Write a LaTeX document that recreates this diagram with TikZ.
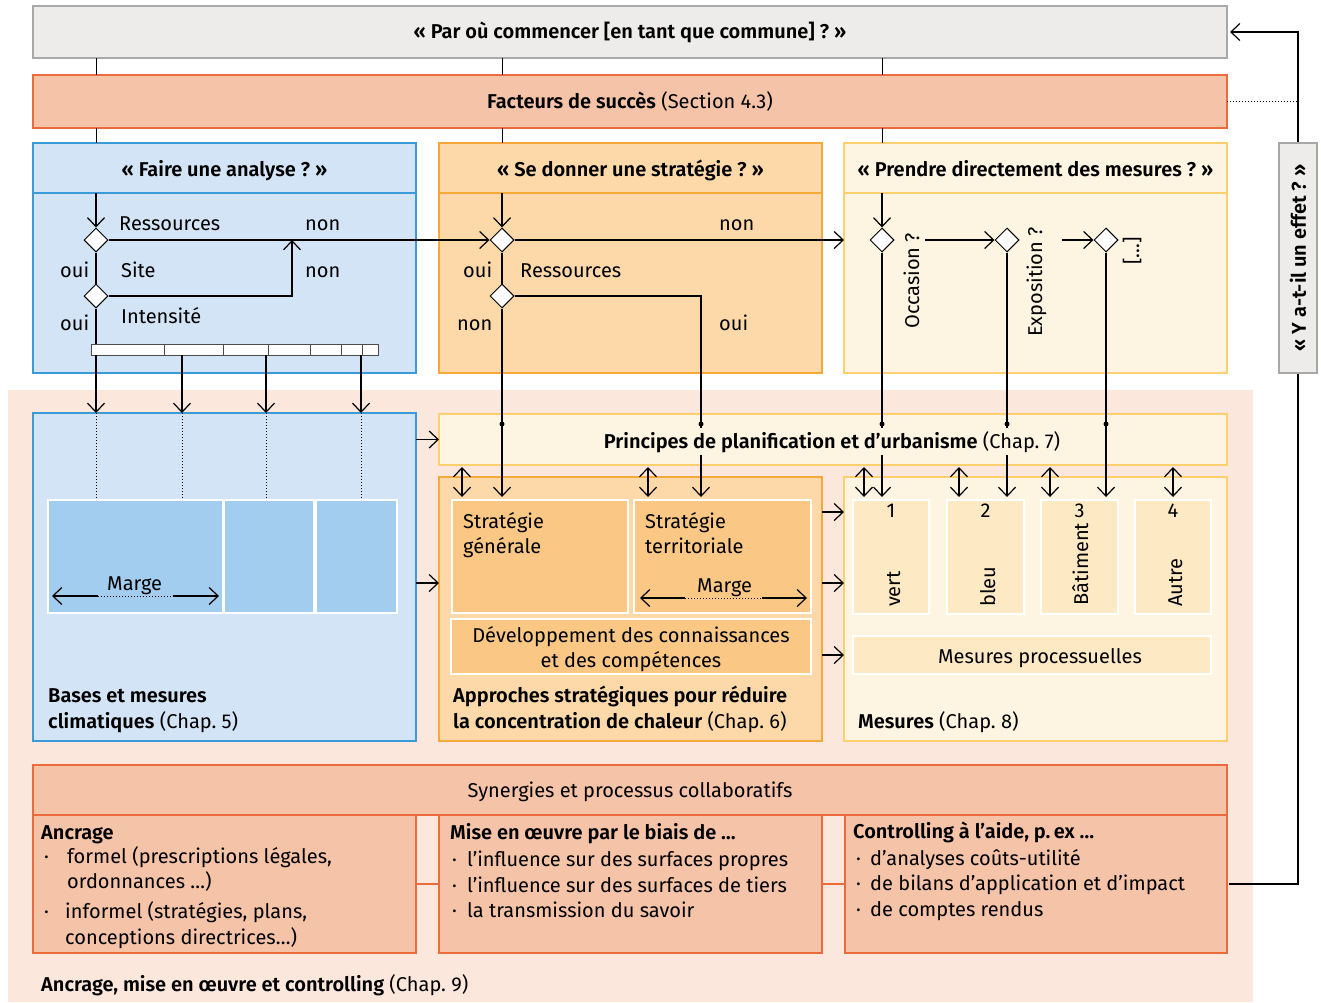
\documentclass[tikz,border=0pt]{standalone}
\usepackage{fontspec}
\setmainfont{Fira Sans}[BoldFont={Fira Sans SemiBold}]
\usetikzlibrary{shapes.geometric,arrows.meta,positioning}

\definecolor{grisF}{HTML}{EDECEB}
\definecolor{grisD}{HTML}{A8A8A8}
\definecolor{saumonF}{HTML}{F5C3A7}
\definecolor{saumonD}{HTML}{EC6B3D}
\definecolor{bleuF}{HTML}{D3E4F6}
\definecolor{bleuD}{HTML}{3A9BD8}
\definecolor{bleuI}{HTML}{A3CDEF}
\definecolor{orF}{HTML}{FDD9A9}
\definecolor{orD}{HTML}{F6A939}
\definecolor{orI}{HTML}{FAC884}
\definecolor{jauneF}{HTML}{FEF4E2}
\definecolor{jauneD}{HTML}{FDD06F}
\definecolor{jauneI}{HTML}{FEE9C5}
\definecolor{fondF}{HTML}{FBE7DC}

\tikzset{
  ln/.style={line width=1.2pt},
  arr/.style={ln,-{Straight Barb[length=9pt,width=17pt]}},
  darr/.style={ln,{Straight Barb[length=9pt,width=17pt]}-{Straight Barb[length=9pt,width=17pt]}},
  box/.style={draw,line width=1.3pt,anchor=north west,inner sep=0pt,outer sep=0pt},
  grisbox/.style={box,fill=grisF,draw=grisD},
  saumonbox/.style={box,fill=saumonF,draw=saumonD},
  bleubox/.style={box,fill=bleuF,draw=bleuD},
  orbox/.style={box,fill=orF,draw=orD},
  jaunebox/.style={box,fill=jauneF,draw=jauneD},
  innerbox/.style={box,draw=white,line width=2.2pt},
  dia/.style={diamond,draw,fill=white,line width=1pt,minimum size=24pt,inner sep=0pt},
  pt/.style={circle,fill,inner sep=0pt,minimum size=5pt},
  txt/.style={anchor=base west,inner sep=0pt},
  txtc/.style={anchor=base,inner sep=0pt},
  rot/.style={rotate=90,anchor=base west,inner sep=0pt},
}

\begin{document}
\fontsize{20}{24}\selectfont
\begin{tikzpicture}[x=1pt,y=-1pt]
  \fill[white] (0,0) rectangle (1321,1002);
  \useasboundingbox (0,0) rectangle (1321,1002);

  % fond du bas
  \node[box,draw=none,fill=fondF,minimum width=1245,minimum height=612] (fond) at (8,390) {};

  % en-tete
  \node[grisbox,minimum width=1194,minimum height=52] (start) at (33,6) {};
  \node[saumonbox,minimum width=1194,minimum height=53] (facteurs) at (33,75) {};

  % trois questions
  \node[bleubox,minimum width=383,minimum height=230] (analyse) at (33,143) {};
  \node[orbox,minimum width=383,minimum height=230] (strategie) at (439,143) {};
  \node[jaunebox,minimum width=383,minimum height=230] (mesdir) at (844,143) {};
  \draw[bleuD,line width=1.3pt] ([yshift=-50pt]analyse.north west) -- ([yshift=-50pt]analyse.north east);
  \draw[orD,line width=1.3pt] ([yshift=-50pt]strategie.north west) -- ([yshift=-50pt]strategie.north east);
  \draw[jauneD,line width=1.3pt] ([yshift=-50pt]mesdir.north west) -- ([yshift=-50pt]mesdir.north east);

  \foreach \x in {96,502,882}{
    \draw[line width=0.9pt] (start.south -| \x,0) -- (facteurs.north -| \x,0);
    \draw[line width=0.9pt] (facteurs.south -| \x,0) -- (analyse.north -| \x,0);
  }

  % boites du milieu
  \node[bleubox,minimum width=383,minimum height=328] (bases) at (33,413) {};
  \node[jaunebox,minimum width=788,minimum height=51] (principes) at (439,414) {};
  \node[orbox,minimum width=383,minimum height=264] (approches) at (439,477) {};
  \node[jaunebox,minimum width=383,minimum height=264] (mesures) at (844,477) {};

  \node[innerbox,fill=bleuI,minimum width=175,minimum height=113] (b1) at (48,500) {};
  \node[innerbox,fill=bleuI,minimum width=90,minimum height=113] (b2) at (224,500) {};
  \node[innerbox,fill=bleuI,minimum width=81,minimum height=113] (b3) at (316,500) {};

  \node[innerbox,fill=orI,minimum width=176,minimum height=113] (sg) at (452,500) {};
  \node[innerbox,fill=orI,minimum width=177,minimum height=113] (st) at (634,500) {};
  \node[innerbox,fill=orI,minimum width=360,minimum height=55] (dev) at (451,619) {};

  \node[innerbox,fill=jauneI,minimum width=76,minimum height=114] (m1) at (853,500) {};
  \node[innerbox,fill=jauneI,minimum width=77,minimum height=114] (m2) at (947,500) {};
  \node[innerbox,fill=jauneI,minimum width=77,minimum height=114] (m3) at (1041,500) {};
  \node[innerbox,fill=jauneI,minimum width=76,minimum height=114] (m4) at (1135,500) {};
  \node[innerbox,fill=jauneI,minimum width=358,minimum height=38] (mp) at (853,636) {};

  % bas
  \node[saumonbox,minimum width=1194,minimum height=50] (synergies) at (33,765) {};
  \node[saumonbox,minimum width=383,minimum height=138] (ancrage) at (33,815) {};
  \node[saumonbox,minimum width=383,minimum height=138] (miseoeuvre) at (439,815) {};
  \node[saumonbox,minimum width=382,minimum height=138] (controlling) at (845,815) {};
  \draw[saumonD,line width=1.2pt] (ancrage.east) -- (miseoeuvre.west);
  \draw[saumonD,line width=1.2pt] (miseoeuvre.east) -- (controlling.west);

  % retour
  \coordinate (retour) at (1298,884);
  \draw[arr,shorten <=2pt,shorten >=3pt] (controlling.east) -- (retour) |- (start.east);
  \draw[dotted,line width=1pt] (facteurs.east) -- (retour |- facteurs.east);
  \node[grisbox,minimum width=38,minimum height=230] (effet) at (1279,143) {};
  \node[rotate=90,inner sep=0pt,font=\bfseries] (teffet) at (effet.center) {«~Y a-t-il un effet~?~»};

  % decisions
  \node[dia] (da1) at (96,240) {};
  \node[dia] (da2) at (96,296) {};
  \node[dia] (ds1) at (502,240) {};
  \node[dia] (ds2) at (502,296) {};
  \node[dia] (dm1) at (882,240) {};
  \node[dia] (dm2) at (1007,240) {};
  \node[dia] (dm3) at (1106,240) {};

  % analyse
  \draw[arr] (da1 |- 0,193) -- (da1.north);
  \draw[ln] (da1.south) -- (da2.north);
  \draw[arr] (da1.east) -- (ds1.west);
  \draw[arr] (da2.east) -| (da1.east -| 292,0);
  \node[box,draw=gray!60!black,fill=white,line width=0.9pt,minimum width=287,minimum height=11] (barre) at (91,344) {};
  \foreach \x in {164,223,268,310,341,362}
    \draw[gray!60!black,line width=0.9pt] (\x,344) -- (\x,355);
  \draw[ln] (da2.south) -- (barre.north -| da2.south);
  \foreach \x in {96,182,266,361}{
    \draw[arr] (barre.south -| \x,0) -- (bases.north -| \x,0);
    \draw[dotted,line width=1pt] (bases.north -| \x,0) -- (b1.north -| \x,0);
  }

  % strategie
  \draw[arr] (ds1 |- 0,193) -- (ds1.north);
  \draw[ln] (ds1.south) -- (ds2.north);
  \draw[arr] (ds1.east) -- (mesdir.west |- ds1.east);
  \draw[arr,shorten >=3pt] (ds2.south) -- (sg.north -| ds2.south);
  \coordinate (cterr) at (701,0);
  \draw[arr,shorten >=3pt] (ds2.east) -| (st.north -| cterr);
  \node[pt] (p1) at (502,424) {};
  \node[pt] (p2) at (701,424) {};

  % mesures directes
  \draw[arr] (dm1 |- 0,193) -- (dm1.north);
  \draw[arr] (925,240) -- (dm2.west);
  \draw[arr] (1062,240) -- (dm3.west);
  \draw[arr,shorten >=3pt] (dm1.south) -- (m1.north -| dm1.south);
  \draw[arr,shorten >=3pt] (dm2.south) -- (m2.north -| dm2.south);
  \draw[arr,shorten >=3pt] (dm3.south) -- (m3.north -| dm3.south);
  \node[pt] (p3) at (882,424) {};
  \node[pt] (p4) at (1007,424) {};
  \node[pt] (p5) at (1106,424) {};

  % liens entre boites
  \draw[arr] (bases.east |- principes.west) -- (principes.west);
  \draw[arr] (bases.east |- 0,583) -- (approches.west |- 0,583);
  \foreach \y in {512,583,655}
    \draw[arr] (approches.east |- 0,\y) -- (mesures.west |- 0,\y);
  \foreach \x in {462,648,864,959,1050,1173}
    \draw[darr] (\x,467) -- (\x,497);

  % marges
  \draw[ln,{Straight Barb[length=9pt,width=17pt]}-] (52,596) -- (98,596);
  \draw[dotted,line width=1pt] (98,596) -- (173,596);
  \draw[arr] (173,596) -- (219,596);
  \draw[ln,{Straight Barb[length=9pt,width=17pt]}-] (640,598) -- (685,598);
  \draw[dotted,line width=1pt] (685,598) -- (762,598);
  \draw[arr] (762,598) -- (807,598);

  % textes
  \node[txtc,font=\bfseries] (t0) at (start.center |- 0,38) {«~Par où commencer [en tant que commune]~?~»};
  \node[txtc] (t1) at (facteurs.center |- 0,108) {\textbf{Facteurs de succès} (Section 4.3)};
  \node[txtc,font=\bfseries] (t2) at (analyse.north |- 0,176) {«~Faire une analyse~?~»};
  \node[txtc,font=\bfseries] (t3) at (strategie.north |- 0,176) {«~Se donner une stratégie~?~»};
  \node[txtc,font=\bfseries] (t4) at (mesdir.north |- 0,176) {«~Prendre directement des mesures~?~»};

  \node[txt] (ta1) at (119,230) {Ressources};
  \node[txt] (ta2) at (305,230) {non};
  \node[txt] (ta3) at (60,277) {oui};
  \node[txt] (ta4) at (121,277) {Site};
  \node[txt] (ta5) at (305,277) {non};
  \node[txt] (ta6) at (60,330) {oui};
  \node[txt] (ta7) at (121,323) {Intensité};

  \node[txt] (ts1) at (719,230) {non};
  \node[txt] (ts2) at (463,277) {oui};
  \node[txt] (ts3) at (520,277) {Ressources};
  \node[txt] (ts4) at (457,330) {non};
  \node[txt] (ts5) at (719,330) {oui};

  \node[rot] (tm1) at (919,329) {Occasion~?};
  \node[rot] (tm2) at (1042,337) {Exposition~?};
  \node[rot] (tm3) at (1139,265) {[…]};

  \node[txtc,fill=jauneF,inner sep=3pt] (tp) at (832,448) {\textbf{Principes de planification et d’urbanisme} (Chap.~7)};

  \node[txt] (tmarge1) at (107,590) {Marge};
  \node[txt] (tmarge2) at (697,592) {Marge};
  \node[txt] (tsg1) at (463,528) {Stratégie};
  \node[txt] (tsg2) at (463,553) {générale};
  \node[txt] (tst1) at (645,528) {Stratégie};
  \node[txt] (tst2) at (645,553) {territoriale};
  \node[txtc] (tdev1) at (dev.center |- 0,642) {Développement des connaissances};
  \node[txtc] (tdev2) at (dev.center |- 0,667) {et des compétences};

  \node[txtc] (tn1) at (m1.center |- 0,517) {1};
  \node[txtc] (tn2) at (m2.center |- 0,517) {2};
  \node[txtc] (tn3) at (m3.center |- 0,517) {3};
  \node[txtc] (tn4) at (m4.center |- 0,517) {4};
  \node[rot] (tv1) at (900,607) {vert};
  \node[rot] (tv2) at (995,607) {bleu};
  \node[rot] (tv3) at (1088,606) {Bâtiment};
  \node[rot] (tv4) at (1182,607) {Autre};
  \node[txtc] (tmp) at (1040,663) {Mesures processuelles};

  \node[txt,font=\bfseries] (tb1) at (48,702) {Bases et mesures};
  \node[txt] (tb2) at (48,728) {\textbf{climatiques} (Chap.~5)};
  \node[txt,font=\bfseries] (tap1) at (453,702) {Approches stratégiques pour réduire};
  \node[txt] (tap2) at (453,728) {\textbf{la concentration de chaleur} (Chap.~6)};
  \node[txt] (tme) at (858,728) {\textbf{Mesures} (Chap.~8)};

  \node[txtc] (tsy) at (synergies.center |- 0,797) {Synergies et processus collaboratifs};
  % ancrage
  \node[txt,font=\bfseries] (tan0) at (41,839) {Ancrage};
  \node[txt] (tan1) at (44,863) {·};
  \node[txt] (tan2) at (67,863) {formel (prescriptions légales,};
  \node[txt] (tan3) at (67,888) {ordonnances …)};
  \node[txt] (tan4) at (44,918) {·};
  \node[txt] (tan5) at (65,918) {informel (stratégies, plans,};
  \node[txt] (tan6) at (65,944) {conceptions directrices…)};
  % mise en oeuvre
  \node[txt,font=\bfseries] (tmo0) at (450,839) {Mise en œuvre par le biais de …};
  \node[txt] (tmo1) at (452,866) {·};
  \node[txt] (tmo2) at (467,866) {l’influence sur des surfaces propres};
  \node[txt] (tmo3) at (452,892) {·};
  \node[txt] (tmo4) at (467,892) {l’influence sur des surfaces de tiers};
  \node[txt] (tmo5) at (452,917) {·};
  \node[txt] (tmo6) at (467,917) {la transmission du savoir};
  % controlling
  \node[txt,font=\bfseries] (tco0) at (853,838) {Controlling à l’aide, p.\,ex …};
  \node[txt] (tco1) at (856,865) {·};
  \node[txt] (tco2) at (870,865) {d’analyses coûts-utilité};
  \node[txt] (tco3) at (856,890) {·};
  \node[txt] (tco4) at (870,890) {de bilans d’application et d’impact};
  \node[txt] (tco5) at (856,916) {·};
  \node[txt] (tco6) at (870,916) {de comptes rendus};

  \node[txt] (tfin) at (41,991) {\textbf{Ancrage, mise en œuvre et controlling} (Chap.~9)};
\end{tikzpicture}
\end{document}
